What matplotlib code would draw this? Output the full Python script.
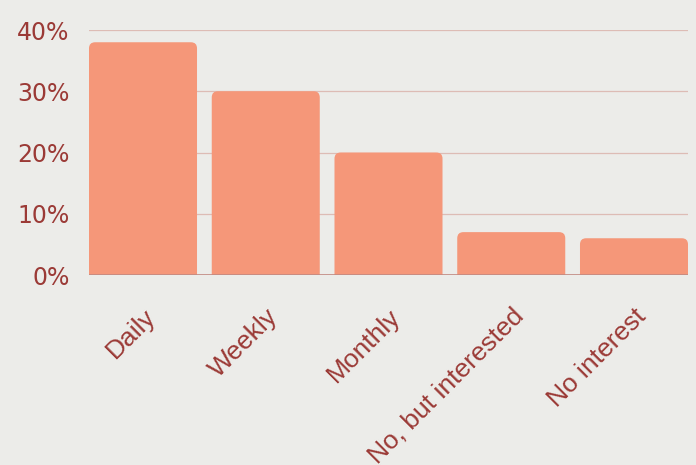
import matplotlib
matplotlib.use("Agg")
import matplotlib.pyplot as plt
from matplotlib.patches import FancyBboxPatch
from matplotlib.ticker import FuncFormatter

# data
categories = ["Daily", "Weekly", "Monthly", "No, but interested", "No interest"]
shares = [38, 30, 20, 7, 6]
y_ticks = [0, 10, 20, 30, 40]

BG = "#ECECE9"
BAR = "#F59779"
TEXT = "#9B3A36"
GRID = "#DDBCB5"
BASE = "#C28A82"

fig = plt.figure(figsize=(6.96, 4.65), dpi=100, facecolor=BG)
ax = fig.add_axes([89 / 696, 1 - 275 / 465, (688 - 89) / 696, (275 - 30) / 465])
ax.set_facecolor(BG)

x = list(range(len(categories)))
bars = ax.bar(x, shares, width=0.88, color=BAR, zorder=2)

# swap plain rectangles for ones with rounded tops
for b in bars:
    bx, bw, bh = b.get_x(), b.get_width(), b.get_height()
    b.set_visible(False)
    rp = FancyBboxPatch((bx, -3), bw, bh + 3,
                        boxstyle="round,pad=0,rounding_size=0.05",
                        mutation_aspect=20, facecolor=BAR, edgecolor="none",
                        zorder=2, clip_on=True)
    ax.add_patch(rp)

ax.set_xlim(-0.44, len(categories) - 0.56)
ax.set_ylim(0, 40)
ax.set_yticks(y_ticks)
ax.yaxis.set_major_formatter(FuncFormatter(lambda v, p: f"{v:.0f}%"))
ax.grid(axis="y", color=GRID, linewidth=0.9, zorder=1)
ax.axhline(0, color=BASE, linewidth=1.2, zorder=3)

for s in ax.spines.values():
    s.set_visible(False)

ax.tick_params(axis="y", length=0, pad=14, labelsize=17, labelcolor=TEXT)
ax.tick_params(axis="x", length=0, pad=21)
for lbl in ax.get_yticklabels():
    lbl.set_fontfamily("DejaVu Sans")

ax.set_xticks(x)
ax.set_xticklabels(categories, rotation=45, ha="right", va="top",
                   rotation_mode="anchor", fontsize=19, color=TEXT,
                   fontfamily="Liberation Sans")

fig.savefig("out.png", dpi=100, facecolor=BG)
